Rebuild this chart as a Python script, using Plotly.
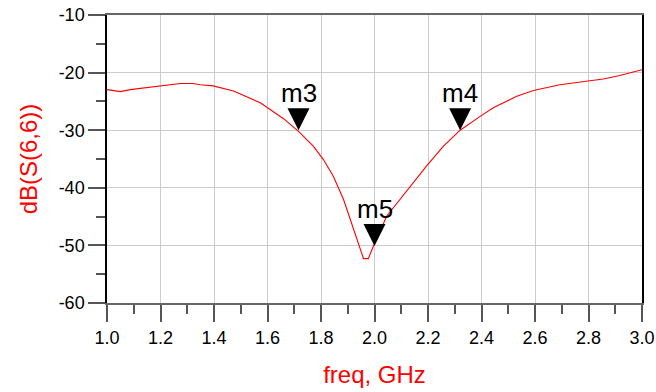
import plotly.graph_objects as go

# Trace data: dB(S(6,6)) vs freq (GHz)
freq = [1.000, 1.050, 1.087, 1.162, 1.199, 1.274, 1.322, 1.349, 1.397, 1.473,
        1.573, 1.610, 1.660, 1.716, 1.772, 1.809, 1.846, 1.884, 1.921, 1.959,
        1.977, 1.996, 2.046, 2.096, 2.133, 2.195, 2.257, 2.320, 2.395, 2.444,
        2.532, 2.594, 2.693, 2.793, 2.855, 2.917, 2.967, 3.000]
s66_db = [-22.95, -23.3, -22.95, -22.5, -22.3, -21.9, -21.9, -22.1, -22.3, -23.2,
          -25.25, -26.4, -28.0, -30.2, -32.8, -35.1, -38.0, -42.0, -47.2, -52.3,
          -52.3, -50.1, -44.9, -42.0, -39.7, -36.2, -32.8, -30.0, -27.6, -26.1,
          -24.1, -23.1, -22.1, -21.5, -21.1, -20.5, -19.9, -19.5]

# Markers
marker_names = ["m3", "m4", "m5"]
marker_freq = [1.716, 2.320, 2.000]
marker_db = [-30.0, -30.0, -50.1]

x_ticks = [1.0, 1.2, 1.4, 1.6, 1.8, 2.0, 2.2, 2.4, 2.6, 2.8, 3.0]
x_ticklabels = ["1.0", "1.2", "1.4", "1.6", "1.8", "2.0", "2.2", "2.4", "2.6", "2.8", "3.0"]
y_ticks = [-60, -50, -40, -30, -20, -10]
y_ticklabels = ["-60", "-50", "-40", "-30", "-20", "-10"]

FONT = "Liberation Sans, Arial, sans-serif"

fig = go.Figure()
fig.add_trace(go.Scatter(x=freq, y=s66_db, mode="lines",
                         line=dict(color="#ff0000", width=1.1),
                         hoverinfo="skip", showlegend=False))

shapes = []
annotations = []
for name, fx, fy in zip(marker_names, marker_freq, marker_db):
    shapes.append(dict(type="path", xref="x", yref="y",
                       xsizemode="pixel", ysizemode="pixel",
                       xanchor=fx, yanchor=fy,
                       path="M-11,22 L11,22 L0,0 Z",
                       fillcolor="black", line=dict(color="black", width=0)))
    annotations.append(dict(x=fx, y=fy, xref="x", yref="y", text=name,
                            showarrow=False, yanchor="bottom", xanchor="center",
                            yshift=20, font=dict(family=FONT, size=26, color="black")))

fig.update_layout(
    width=656, height=392,
    margin=dict(l=107, r=14, t=15, b=89),
    paper_bgcolor="white", plot_bgcolor="white",
    font=dict(family=FONT, size=18, color="black"),
    shapes=shapes, annotations=annotations,
    xaxis=dict(range=[1.0, 3.0], tickvals=x_ticks, ticktext=x_ticklabels,
               automargin=False,
               showgrid=True, gridcolor="#cccccc", gridwidth=1,
               showline=True, linecolor="#666666", linewidth=2, mirror=True,
               ticks="outside", ticklen=17, tickwidth=2, tickcolor="#555555",
               minor=dict(dtick=0.1, ticks="outside", ticklen=9, tickwidth=1.5,
                          tickcolor="#555555", showgrid=False),
               zeroline=False,
               title=dict(text="freq, GHz", font=dict(family=FONT, size=24, color="#ff0000"),
                          standoff=20),
               tickfont=dict(family=FONT, size=18, color="black")),
    yaxis=dict(range=[-60, -10], tickvals=y_ticks, ticktext=y_ticklabels,
               automargin=False,
               showgrid=True, gridcolor="#cccccc", gridwidth=1,
               showline=True, linecolor="black", linewidth=1.5, mirror=True,
               ticks="outside", ticklen=17, tickwidth=2, tickcolor="#555555",
               minor=dict(dtick=5, ticks="outside", ticklen=9, tickwidth=1.5,
                          tickcolor="#555555", showgrid=False),
               zeroline=False,
               title=dict(text="dB(S(6,6))", font=dict(family=FONT, size=24, color="#ff0000"),
                          standoff=14),
               tickfont=dict(family=FONT, size=18, color="black")),
)

fig.write_html("out.html", config={"displayModeBar": False},
               post_script="document.body.style.margin='0px';document.body.style.overflow='hidden';")
